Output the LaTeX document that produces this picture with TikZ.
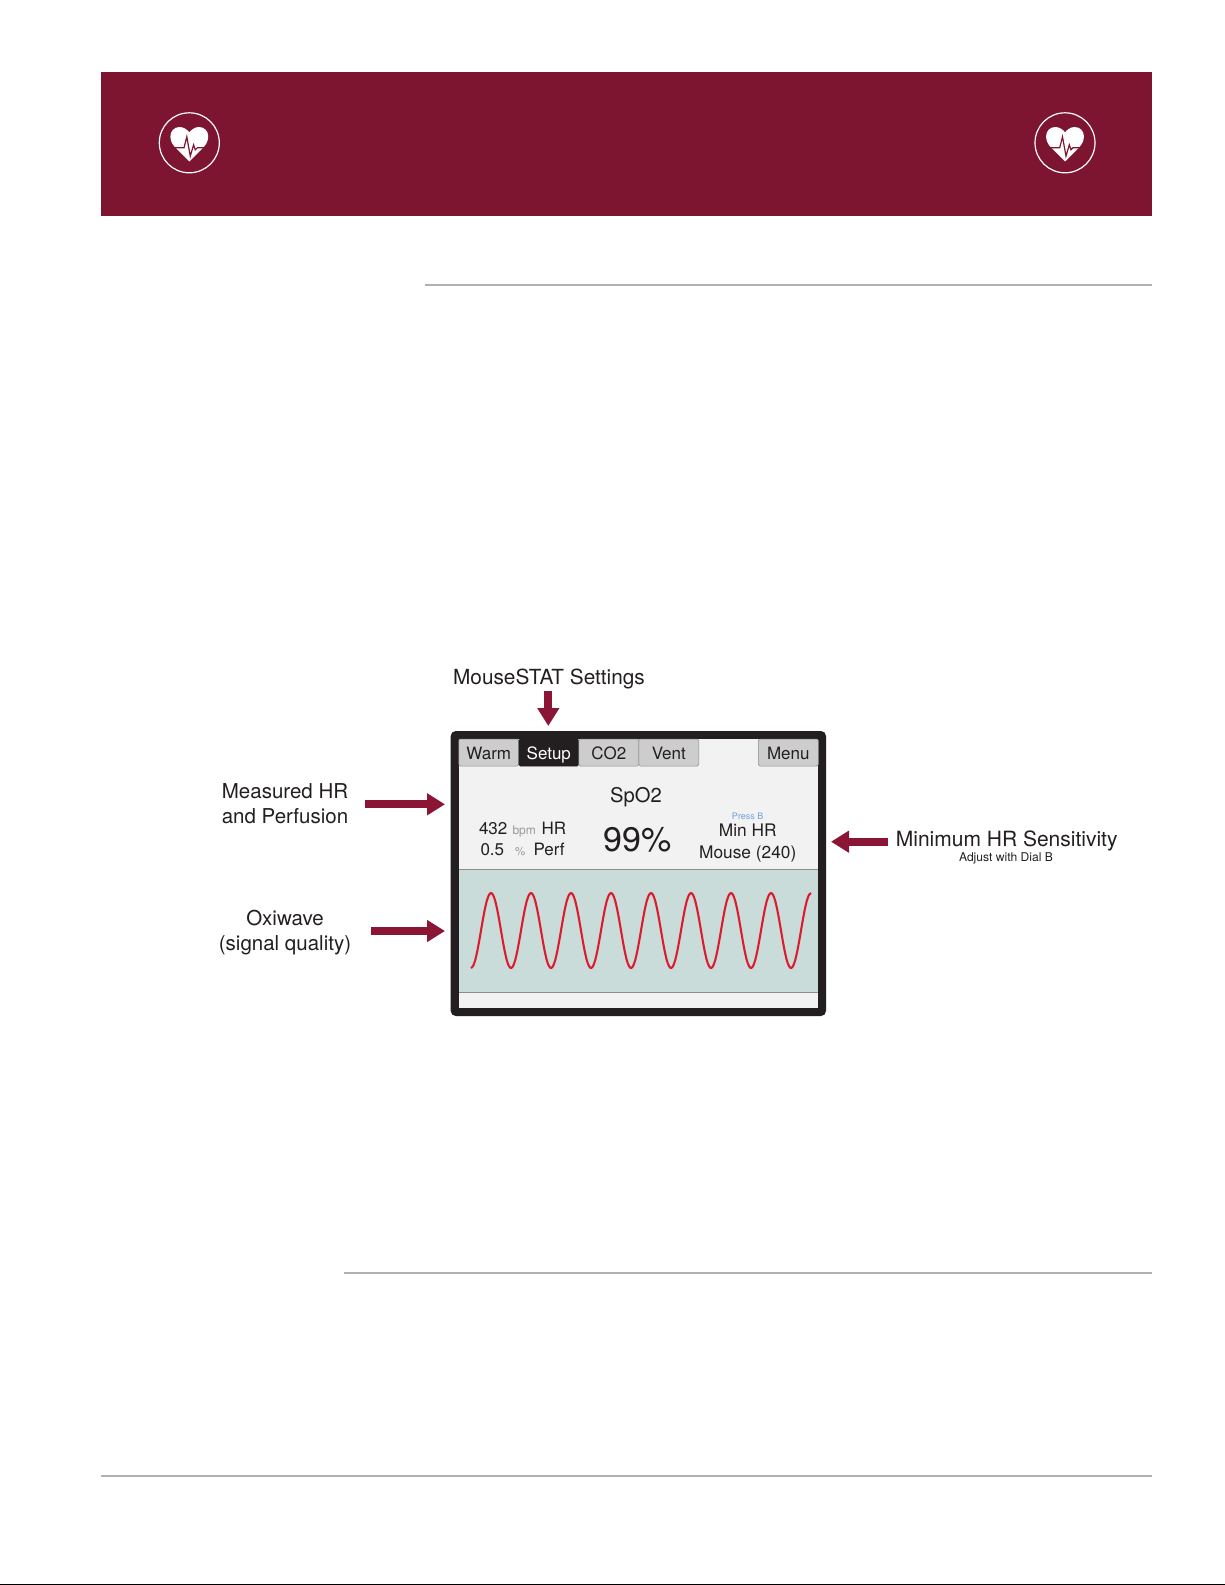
\documentclass[tikz,border=0pt]{standalone}
\usepackage{fontspec}
\setmainfont{TeX Gyre Heros}
\usetikzlibrary{arrows.meta,positioning}
\definecolor{bandred}{HTML}{7E1530}
\definecolor{arrowred}{HTML}{8B1535}
\definecolor{wavered}{HTML}{DC1C2E}
\definecolor{inkdark}{HTML}{231F20}
\definecolor{panelgray}{HTML}{F2F2F2}
\definecolor{tabgray}{HTML}{CDCDCD}
\definecolor{edgegray}{HTML}{8C8C8C}
\definecolor{rulegray}{HTML}{B0B0B0}
\definecolor{wavebg}{HTML}{CADCDA}
\definecolor{pressblue}{HTML}{6F9FE0}
\newcommand{\fsz}[1]{\fontsize{#1}{#1}\selectfont}
\tikzset{
  lbl/.style={inner sep=0pt,outer sep=0pt,anchor=base,text=inkdark},
  lblwest/.style={lbl,anchor=base west},
  tabbtn/.style={draw=edgegray,line width=.5pt,fill=tabgray,rounded corners=1.5pt,inner sep=0pt,outer sep=0pt,
    minimum width=60pt,minimum height=27pt,text height=14pt,text depth=1pt,text=inkdark,font=\fsz{17}},
  redarrow/.style={arrowred,line width=8pt,-{Triangle[length=18pt,width=21pt]}},
  rulerline/.style={rulegray,line width=2pt},
}
\begin{document}
\begin{tikzpicture}[x=1pt,y=-1pt]
\useasboundingbox (0,0) rectangle (1225,1585);
% -- draw banner
\fill[bandred] (101,72) rectangle (1152,216);
\foreach \cx in {189.3,1065}{
\begin{scope}[shift={(\cx,142.8)}]
\draw[white,line width=1.2pt] (0,0) circle (30);
\fill[white] (0,18.7) -- (-13.3,5.4) -- (-15,3.5) .. controls (-17.3,1) and (-18.9,-2.5) .. (-18.9,-6.5)
  .. controls (-18.9,-11.8) and (-15,-15.8) .. (-9.7,-15.8) .. controls (-5.5,-15.8) and (-2,-13) .. (0,-10.5)
  .. controls (2,-13) and (5.5,-15.8) .. (9.7,-15.8) .. controls (15,-15.8) and (18.9,-11.8) .. (18.9,-6.5)
  .. controls (18.9,-2.5) and (17.3,1) .. (15,3.5) -- (13.3,5.4) -- cycle;
\draw[bandred,line width=1.2pt,line join=miter] (-20,5) -- (-5.3,5) -- (-2.5,-6) -- (1,13.3) -- (4.3,2) -- (6,7) -- (8,5) -- (20,5);
\end{scope}
}
% -- draw rules
\draw[rulerline] (425,285) -- (1152,285);
\draw[rulerline] (344,1272.7) -- (1152,1272.7);
\draw[rulerline] (101,1475.7) -- (1152,1475.7);
\draw[black,line width=1pt] (0,1584.5) -- (1225,1584.5);
% -- draw screen
\fill[inkdark,rounded corners=5pt] (450.7,731) rectangle (826,1016);
\fill[panelgray] (458.7,739) rectangle (818,1008);
\fill[wavebg] (458.7,869) rectangle (818,992);
\draw[edgegray,line width=.8pt] (458.7,869) -- (818,869);
\draw[edgegray,line width=.8pt] (458.7,992) -- (818,992);
% -- draw tabs
\node[tabbtn] (warm) at (488.8,752.5) {Warm};
\node[tabbtn,draw=inkdark,fill=inkdark,text=white,right=0pt of warm] (setup) {Setup};
\node[tabbtn,right=0pt of setup] (co2) {CO2};
\node[tabbtn,right=0pt of co2] (vent) {Vent};
\node[tabbtn] (menu) at (788.3,752.5) {Menu};
% -- draw readings
\node[lbl,font=\fsz{20.2}] (spo2) at (636,802.3) {SpO2};
\node[lbl,font=\fsz{34}] (pct) at (637.8,851.7) {99\%};
\node[lblwest,font=\fsz{17}] (hrval) at (479,834) {432};
\node[lblwest,font=\fsz{12},text=gray!80] (bpm) at (512.5,834) {bpm};
\node[lblwest,font=\fsz{17}] (hrtag) at (541.5,834) {HR};
\node[lblwest,font=\fsz{17}] (perfval) at (480.5,855) {0.5};
\node[lblwest,font=\fsz{11.5},text=gray!80] (perfunit) at (515,855) {\%};
\node[lblwest,font=\fsz{17}] (perftag) at (533.5,855) {Perf};
\node[lbl,font=\fsz{9},text=pressblue] (press) at (747.7,819) {Press B};
\node[lbl,font=\fsz{17.3}] (minhr) at (747.7,836.7) {Min HR};
\node[lbl,font=\fsz{17.3}] (mouse) at (747.7,858) {Mouse (240)};
% -- draw wave
\draw[wavered,line width=2.1pt,smooth,samples=171,domain=471:811] plot(\x,{930.5+37.5*cos(9*(\x-471))});
% -- draw labels
\node[lbl,font=\fsz{20.8}] (settings) at (549,684) {MouseSTAT Settings};
\node[lbl,font=\fsz{20.5}] (hrone) at (285,798) {Measured HR};
\node[lbl,font=\fsz{20.5}] (hrtwo) at (285,823) {and Perfusion};
\node[lbl,font=\fsz{20.5}] (oxione) at (285,925) {Oxiwave};
\node[lbl,font=\fsz{20.5}] (oxitwo) at (285,950) {(signal quality)};
\node[lbl,font=\fsz{21}] (minsens) at (1006.7,846) {Minimum HR Sensitivity};
\node[lbl,font=\fsz{12.1}] (dial) at (1006,861) {Adjust with Dial B};
% -- draw arrows
\coordinate (settingtip) at (548.3,726);
\coordinate (hrtip) at (445,804.3);
\coordinate (oxitip) at (445,931);
\coordinate (senstip) at (831,841.7);
\draw[redarrow,shorten <=2pt] (settings.south -| settingtip) -- (settingtip);
\draw[redarrow,shorten <=17pt] (hrone.east |- hrtip) -- (hrtip);
\draw[redarrow,shorten <=20pt] (oxitwo.east |- oxitip) -- (oxitip);
\draw[redarrow,shorten <=8pt] (minsens.west |- senstip) -- (senstip);
\end{tikzpicture}
\end{document}
